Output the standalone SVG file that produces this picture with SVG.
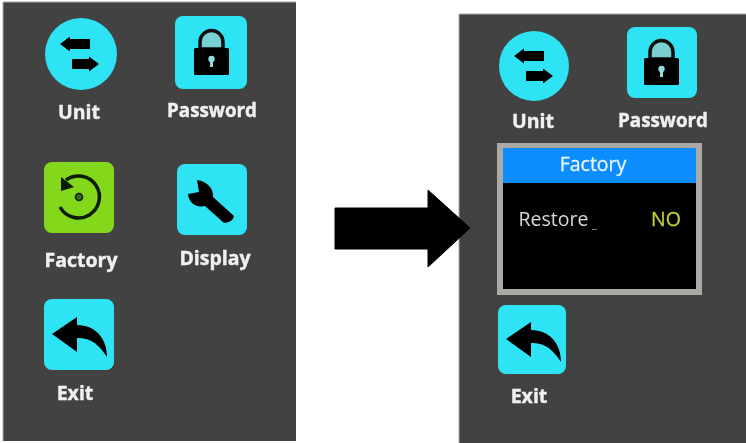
<svg xmlns="http://www.w3.org/2000/svg" xmlns:xlink="http://www.w3.org/1999/xlink" width="746" height="443" viewBox="0 0 746 443">
<style>
.panel{fill:#424242}
.edge{fill:none;stroke:#a8a8a8;stroke-width:1}
.cy{fill:#2de4f4}
.gr{fill:#83d81b}
.lbl{font-family:"Open Sans","Noto Sans","Liberation Sans",sans-serif;font-weight:700;font-size:19.500px;fill:#f0f0f0;stroke:#f0f0f0;stroke-width:.4;text-anchor:middle}
.pw{font-size:18.800px}
.thin{font-family:"Open Sans","Noto Sans","Liberation Sans",sans-serif;font-weight:400;font-size:19.500px;text-anchor:middle}
</style>
<defs>
<filter id="soft" x="-5%" y="-5%" width="110%" height="110%"><feGaussianBlur stdDeviation="0.6"/></filter>
<g id="swap" fill="#000">
<path d="M-21-10L-11-17.500V-15H9V-5H-11V-2.500Z"/>
<path d="M18 10L8 2.500V5H-9V15H8V17.500Z"/>
</g>
<g id="lock">
<path d="M25 33V26a11.500 11.500 0 0 1 23 0V33Z" fill="#79cfd2" stroke="#0a0a0a" stroke-width="3.500"/>
<rect x="19" y="32" width="35" height="27" rx="1.500" fill="#000"/>
<circle cx="36.500" cy="43" r="3.200" fill="#8fdde0"/>
<rect x="35" y="44" width="3" height="7" fill="#8fdde0"/>
</g>
<g id="wrench">
<path d="M11 30L22 28L20 16C30 17 37 25 36 33L57 52Q56 58 47 59L28 42C20 44 12 40 11 30Z" fill="#000"/>
</g>
<g id="reply">
<path d="M8 35L33 18V26C52 26 63 40 63 58C56 47 47 38 33 39V53Z" fill="#000"/>
</g>
</defs>
<rect width="746" height="443" fill="#fff"/>
<g filter="url(#soft)">
<g id="screen-left">
<rect class="panel" x="3" y="2" width="293" height="439"/>
<path class="edge" d="M3 441V2H296"/>
</g>
<g id="screen-right">
<rect class="panel" x="459" y="14" width="287" height="429"/>
<path class="edge" d="M459 443V14H746"/>
</g>
<g id="left-unit">
<circle class="cy" cx="81" cy="54" r="36"/>
<use xlink:href="#swap" href="#swap" x="81" y="54"/>
<text class="lbl" x="79" y="119">Unit</text>
</g>
<g id="left-password">
<rect class="cy" x="175" y="16" width="72" height="73" rx="8"/>
<use xlink:href="#lock" href="#lock" x="175" y="16"/>
<text class="lbl pw" x="212" y="117">Password</text>
</g>
<g id="left-factory">
<rect class="gr" x="44" y="162" width="70" height="71" rx="8"/>
<path d="M66 180A21 21 0 1 1 60 207" fill="none" stroke="#0a1a05" stroke-width="3.500"/>
<path d="M61 177L74 187L61 191Z" fill="#0a1a05"/>
<circle cx="79" cy="197" r="3.500" fill="#3d6a20" stroke="#0a1a05" stroke-width="1.500"/>
<text class="lbl" x="81" y="267">Factory</text>
</g>
<g id="left-display">
<rect class="cy" x="177" y="164" width="70" height="71" rx="8"/>
<use xlink:href="#wrench" href="#wrench" x="177" y="164"/>
<text class="lbl" x="215" y="265">Display</text>
</g>
<g id="left-exit">
<rect class="cy" x="44" y="299" width="70" height="71" rx="8"/>
<use xlink:href="#reply" href="#reply" x="44" y="299"/>
<text class="lbl" x="75" y="400">Exit</text>
</g>
<g id="right-unit">
<circle class="cy" cx="534" cy="66" r="35"/>
<use xlink:href="#swap" href="#swap" x="535" y="66"/>
<text class="lbl" x="533" y="128">Unit</text>
</g>
<g id="right-password">
<rect class="cy" x="627" y="27" width="70" height="71" rx="8"/>
<use xlink:href="#lock" href="#lock" x="625" y="26"/>
<text class="lbl pw" x="663" y="127">Password</text>
</g>
<g id="factory-dialog">
<rect x="497" y="143" width="205" height="152" fill="#aaa9a5"/>
<rect x="503" y="148" width="193" height="141" fill="#000"/>
<rect x="503" y="148" width="193" height="35" fill="#0a8cff"/>
<text class="thin" x="593" y="171" fill="#e8f4ff" stroke="#e8f4ff" stroke-width=".3">Factory</text>
<text class="thin" x="553.500" y="226" fill="#d8d8d8">Restore</text>
<rect x="592" y="229" width="5" height="1" fill="#777"/>
<text class="thin" x="666" y="226" fill="#c4c93a" stroke="#c4c93a" stroke-width=".3">NO</text>
</g>
<g id="right-exit">
<rect class="cy" x="498" y="305" width="68" height="69" rx="8"/>
<use xlink:href="#reply" href="#reply" x="498" y="304"/>
<text class="lbl" x="529" y="403">Exit</text>
</g>
</g>
<g id="connectors" filter="url(#soft)">
<path d="M335 208H428V190L470 228L428 267V249H335Z" fill="#000" stroke="#000" stroke-width="1" stroke-linejoin="round"/>
</g>
</svg>
